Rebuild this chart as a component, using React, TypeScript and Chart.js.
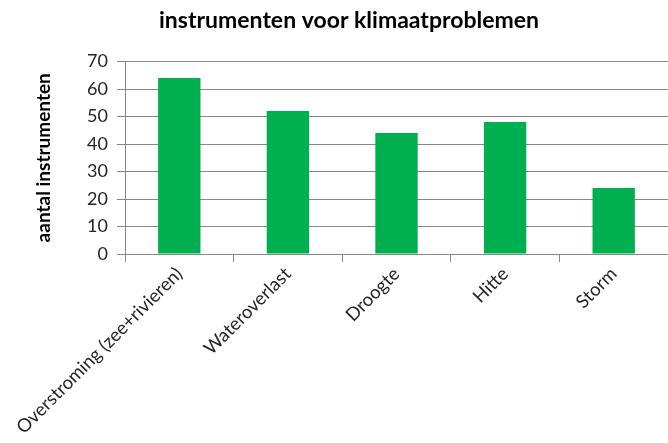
import React, { useEffect, useRef } from "react";
import { Chart, registerables } from "chart.js";
Chart.register(...registerables);

const categories = ["Overstroming (zee+rivieren)", "Wateroverlast", "Droogte", "Hitte", "Storm"];
const values = [64, 52, 44, 48, 24];
const yMin = 0;
const yMax = 70;
const yStep = 10;
const chartTitle = "instrumenten voor klimaatproblemen";
const yTitle = "aantal instrumenten";

const FONT = "Lato, 'Open Sans', sans-serif";

export default function App() {
  const ref = useRef<HTMLCanvasElement>(null);
  useEffect(() => {
    document.body.style.margin = "0";
    const chart = new Chart(ref.current!, {
      type: "bar",
      data: {
        labels: categories,
        datasets: [
          {
            data: values,
            backgroundColor: "#00B050",
            barPercentage: 0.39,
            categoryPercentage: 1,
          },
        ],
      },
      options: {
        animation: false,
        responsive: false,
        layout: { padding: { left: 30, right: 0, top: 0, bottom: 0 } },
        plugins: {
          legend: { display: false },
          tooltip: { enabled: false },
          title: {
            display: true,
            text: chartTitle,
            font: { family: FONT, size: 23, weight: "bold" },
            color: "#000",
            padding: { top: 7, bottom: 27 },
          },
        },
        scales: {
          x: {
            grid: { offset: true, drawOnChartArea: false, tickLength: 8, color: "#888" },
            border: { color: "#888" },
            ticks: {
              minRotation: 45,
              maxRotation: 45,
              autoSkip: false,
              font: { family: FONT, size: 18.5 },
              color: "#262626",
              padding: 1,
            },
            afterFit: (s: any) => {
              s.height = 189;
            },
          },
          y: {
            min: yMin,
            max: yMax,
            ticks: { stepSize: yStep, font: { family: FONT, size: 18 }, color: "#262626", padding: 9 },
            grid: { color: "#888", tickLength: 8 },
            border: { color: "#888" },
            title: {
              display: true,
              text: yTitle,
              font: { family: FONT, size: 19, weight: "bold" },
              color: "#000",
              padding: { top: 2, bottom: 0 },
            },
            afterFit: (s: any) => {
              s.width = 95;
            },
          },
        },
      },
    });
    return () => chart.destroy();
  }, []);
  return <canvas ref={ref} width={668} height={443} style={{ display: "block" }} />;
}
